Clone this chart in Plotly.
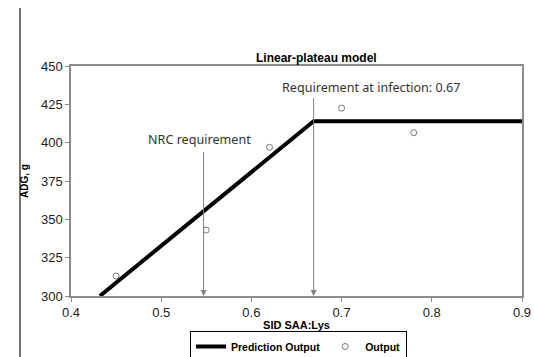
import plotly.graph_objects as go

# Observed data
obs_x = [0.45, 0.55, 0.62, 0.70, 0.78]
obs_y = [313, 343, 397, 422.5, 406.5]

# Linear-plateau prediction line
pred_x = [0.432, 0.669, 0.9]
pred_y = [300, 414, 414]

# Requirement markers
nrc_req = 0.547
inf_req = 0.669

x_ticks = [0.4, 0.5, 0.6, 0.7, 0.8, 0.9]
y_ticks = [300, 325, 350, 375, 400, 425, 450]

W, H = 534, 357
SANS = "Liberation Sans, Arial, sans-serif"

fig = go.Figure()
fig.add_trace(go.Scatter(x=pred_x, y=pred_y, mode="lines", name="Prediction Output",
                         line=dict(color="black", width=4), cliponaxis=True))
fig.add_trace(go.Scatter(x=obs_x, y=obs_y, mode="markers", name="Output",
                         marker=dict(symbol="circle-open", size=6, color="#777777",
                                     line=dict(width=1))))

ann_font = dict(family="Noto Sans, Open Sans, sans-serif", size=12.6, color="#333333")
fig.add_annotation(x=nrc_req, y=300, ax=nrc_req, ay=395, xref="x", yref="y",
                   axref="x", ayref="y", showarrow=True, arrowhead=2, arrowsize=1.2,
                   arrowwidth=1, arrowcolor="#808080", text="")
fig.add_annotation(x=inf_req, y=300, ax=inf_req, ay=430, xref="x", yref="y",
                   axref="x", ayref="y", showarrow=True, arrowhead=2, arrowsize=1.2,
                   arrowwidth=1, arrowcolor="#808080", text="")
fig.add_annotation(x=0.542, y=402, xref="x", yref="y", text="NRC requirement",
                   showarrow=False, font=ann_font, yanchor="middle")
fig.add_annotation(x=0.733, y=436, xref="x", yref="y", text="Requirement at infection: 0.67",
                   showarrow=False, font=ann_font, yanchor="middle")

fig.add_annotation(x=(316 - 71) / 451, y=(296 - 58) / 230, xref="paper", yref="paper",
                   text="<b>Linear-plateau model</b>", showarrow=False,
                   xanchor="center", yanchor="middle",
                   font=dict(family=SANS, size=12, color="black"))

fig.add_shape(type="line", xref="paper", yref="paper",
              x0=(20 - 71) / 451, x1=(20 - 71) / 451, y0=(296 - 357) / 230, y1=(296 - 8) / 230,
              line=dict(color="#444444", width=1.5))

axis_common = dict(showgrid=False, zeroline=False, showline=True, linecolor="#8c8c8c",
                   linewidth=1.5, mirror=True, ticks="outside", ticklen=4,
                   tickcolor="#8c8c8c", automargin=False,
                   tickfont=dict(family=SANS, size=13, color="#222222"))

fig.update_layout(
    width=W, height=H,
    margin=dict(l=71, r=12, t=66, b=61),
    paper_bgcolor="white", plot_bgcolor="white",
    xaxis=dict(range=[0.4, 0.9], tickvals=x_ticks, ticktext=[f"{v:g}" for v in x_ticks],
               title=dict(text="<b>SID SAA:Lys</b>", standoff=2,
                          font=dict(family=SANS, size=11, color="black")),
               **axis_common),
    yaxis=dict(range=[300, 450], tickvals=y_ticks,
               title=dict(text="<b>ADG, g</b>", standoff=10,
                          font=dict(family=SANS, size=10, color="black")),
               **axis_common),
    legend=dict(orientation="h", xref="container", yref="container",
                x=190 / W, xanchor="left",
                y=(H - 331) / H, yanchor="top",
                bordercolor="black", borderwidth=1, bgcolor="white",
                font=dict(family=SANS, size=10.5, color="black", weight="bold"),
                itemwidth=30, tracegroupgap=0),
    showlegend=True,
)

fig.write_html("out.html", config={"displayModeBar": False},
               post_script="document.body.style.margin='0';document.body.style.overflow='hidden';")
